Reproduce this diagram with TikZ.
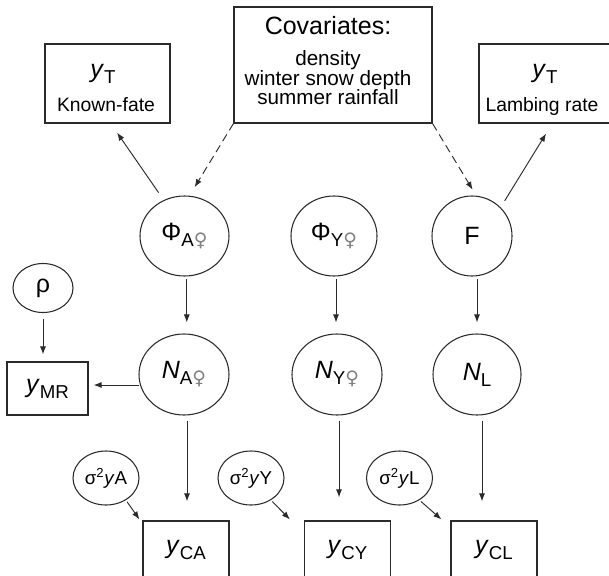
\documentclass[tikz,border=0pt]{standalone}
\usepackage{fontspec}
\setmainfont{Liberation Sans}
\newfontfamily\symf{DejaVu Sans}
\usetikzlibrary{arrows.meta,calc,shapes.geometric}
\definecolor{linecol}{HTML}{2A2A2A}
\definecolor{femcol}{HTML}{808080}
\newcommand{\fmain}{\fontsize{18.75}{22}\selectfont}
\newcommand{\fsubs}{\fontsize{14}{16}\selectfont}
\newcommand{\flab}{\fontsize{14.5}{17}\selectfont}
\newcommand{\fcovl}{\fontsize{15.5}{18}\selectfont}
\newcommand{\fsig}{\fontsize{14}{16}\selectfont}
\newcommand{\mysub}[1]{\raisebox{-4.5pt}{\fsubs #1}}
\newcommand{\fem}{{\symf\color{femcol}♀}}
\begin{document}
\begin{tikzpicture}[x=0.75pt,y=-0.75pt,
  box/.style={draw=linecol, line width=0.9pt, rectangle, inner sep=0pt, text=black},
  ell/.style={draw=linecol, line width=0.8pt, ellipse, inner sep=0pt, text=black},
  arr/.style={draw=linecol, line width=0.7pt, -{Latex[length=6pt,width=4.5pt]}},
  dsh/.style={arr, dash pattern=on 6pt off 3.5pt},
  lbl/.style={anchor=base, inner sep=0pt, text=black}]
\useasboundingbox (0,0) rectangle (609,575);
\clip (0,0) rectangle (609,575);

% top boxes
\node[box, minimum width=148.5pt, minimum height=87pt] (cov) at (333,65) {};
\node[lbl] (covt) at (328,34) {\fmain Covariates:};
\node[lbl] (cov1) at (328,65) {\fcovl density};
\node[lbl] (cov2) at (328,85) {\fcovl winter snow depth};
\node[lbl] (cov3) at (328,104) {\fcovl summer rainfall};

\node[box, minimum width=93.75pt, minimum height=59.25pt] (kf) at (107.5,83.5) {};
\node[lbl] (kfy) at (103,77) {\fmain\textit{y}\mysub{T}};
\node[lbl] (kft) at (106,111) {\flab Known-fate};

\node[box, minimum width=99.75pt, minimum height=59.25pt] (lam) at (545.5,83.5) {};
\node[lbl] (lamy) at (545,77) {\fmain\textit{y}\mysub{T}};
\node[lbl] (lamt) at (542,111) {\flab Lambing rate};

% parameter ellipses
\node[ell, minimum width=66.75pt, minimum height=60pt] (phiA) at (184.5,236) {\fmain Φ\mysub{A\fem}};
\node[ell, minimum width=64.5pt, minimum height=60pt] (phiY) at (334,236) {\fmain Φ\mysub{Y\fem}};
\node[ell, minimum width=60pt, minimum height=60pt] (F) at (472,236) {\fmain F};
\node[ell, minimum width=45pt, minimum height=36.75pt] (rho) at (43,288) {\fmain ρ};

\node[box, minimum width=60.75pt, minimum height=39.75pt] (yMR) at (47.5,388.5) {\fmain\textit{y}\mysub{MR}};

\node[ell, minimum width=67.5pt, minimum height=60.75pt] (NA) at (184,374.5) {\fmain\textit{N}\mysub{A\fem}};
\node[ell, minimum width=67.5pt, minimum height=60.75pt] (NY) at (337,374.5) {\fmain\textit{N}\mysub{Y\fem}};
\node[ell, minimum width=66pt, minimum height=60.75pt] (NL) at (477,374.5) {\fmain\textit{N}\mysub{L}};

\node[ell, minimum width=49.5pt, minimum height=40.5pt] (sA) at (106,478) {\fsig σ\textsuperscript{2}\textit{y}A};
\node[ell, minimum width=49.5pt, minimum height=40.5pt] (sY) at (251,478) {\fsig σ\textsuperscript{2}\textit{y}Y};
\node[ell, minimum width=49.5pt, minimum height=40.5pt] (sL) at (399.5,478) {\fsig σ\textsuperscript{2}\textit{y}L};

\node[box, minimum width=64.5pt, minimum height=42.75pt] (yCA) at (186,549.5) {\fmain\textit{y}\mysub{CA}};
\node[box, minimum width=64.5pt, minimum height=42.75pt] (yCY) at (347.5,549.5) {\fmain\textit{y}\mysub{CY}};
\node[box, minimum width=64.5pt, minimum height=42.75pt] (yCL) at (494,549.5) {\fmain\textit{y}\mysub{CL}};

% connectors
\draw[arr, shorten <=6.75pt, shorten >=8.25pt] (phiA.120.7) -- ($(kf.south)+(3.3,0)$);
\draw[dsh, shorten >=7.5pt] (cov.south west) -- (phiA.83.5);
\draw[dsh, shorten >=5.25pt] (cov.south east) -- (F.84.8);
\draw[arr, shorten <=5.7pt, shorten >=8.8pt] (F.45.5) -- ($(lam.south)+(6.7,0)$);

\coordinate (pA) at ($(phiA.south)+(2.3,0)$);
\draw[arr, shorten <=1.5pt, shorten >=8.25pt] (pA) -- (pA |- NA.north);
\coordinate (pY) at ($(phiY.south)+(2,0)$);
\draw[arr, shorten <=1.5pt, shorten >=8.25pt] (pY) -- (pY |- NY.north);
\coordinate (pF) at ($(F.south)+(5,0)$);
\draw[arr, shorten <=1.5pt, shorten >=8.25pt] (pF) -- (pF |- NL.north);

\coordinate (nA) at ($(NA.south)+(3,0)$);
\draw[arr, shorten <=3.75pt, shorten >=14.25pt] (nA) -- (nA |- yCA.north);
\coordinate (nY) at ($(NY.south)+(2,0)$);
\draw[arr, shorten <=3.75pt, shorten >=17.25pt] (nY) -- (nY |- yCY.north);
\coordinate (nL) at ($(NL.south)+(5,0)$);
\draw[arr, shorten <=3.75pt, shorten >=14.25pt] (nL) -- (nL |- yCL.north);

\draw[arr, shorten <=4.5pt, shorten >=5.25pt] (rho.south) -- (rho.south |- yMR.north);
\coordinate (nM) at ($(NA.west)+(1.5,10.5)$);
\draw[arr, shorten <=0.75pt, shorten >=3.75pt] (nM) -- (nM -| yMR.east);

\draw[arr, shorten <=1.5pt] (sA.-48) -- ($(yCA.north west)+(-3,-1)$);
\draw[arr, shorten <=1.5pt] (sY.-48) -- ($(yCY.north west)+(-14,-1)$);
\draw[arr, shorten <=1.5pt] (sL.-48) -- ($(yCL.north west)+(-9,-1)$);
\end{tikzpicture}
\end{document}
